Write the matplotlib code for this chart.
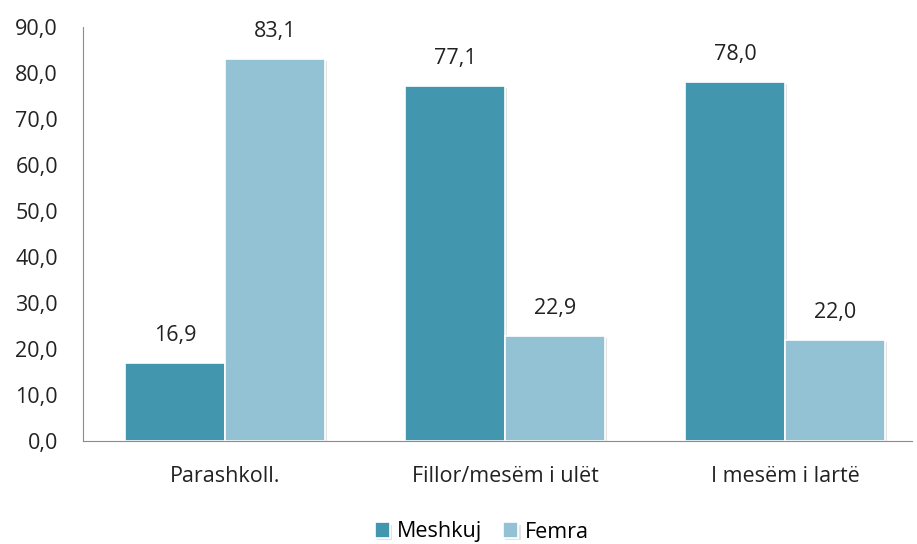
import numpy as np
import matplotlib.pyplot as plt
import matplotlib.patheffects as pe

categories = ["Parashkoll.", "Fillor/mesëm i ulët", "I mesëm i lartë"]
meshkuj = [16.9, 77.1, 78.0]
femra = [83.1, 22.9, 22.0]
yticks = [0, 10, 20, 30, 40, 50, 60, 70, 80, 90]

dark = "#4296ad"
light = "#93c2d5"

plt.rcParams["font.family"] = ["Open Sans", "DejaVu Sans"]
fs = 15.5

fig = plt.figure(figsize=(9.17, 5.44), dpi=100)
ax = fig.add_axes([83 / 917, 103 / 544, 829 / 917, 414 / 544])

x = np.arange(len(categories))
w = 0.357
shadow = [pe.SimplePatchShadow(offset=(1.5, -1.5), shadow_rgbFace="#cfcfcf", alpha=0.6), pe.Normal()]
b1 = ax.bar(x - w / 2, meshkuj, w, color=dark, edgecolor="white", linewidth=1.2,
            label="Meshkuj", path_effects=shadow)
b2 = ax.bar(x + w / 2, femra, w, color=light, edgecolor="white", linewidth=1.2,
            label="Femra", path_effects=shadow)

for bars, vals in ((b1, meshkuj), (b2, femra)):
    for b, v in zip(bars, vals):
        ax.text(b.get_x() + b.get_width() / 2, v + 6.0, f"{v:.1f}".replace(".", ","),
                ha="center", va="center", fontsize=fs, color="#222222")

ax.set_ylim(0, 90)
ax.set_xlim(-0.507, 2.454)
ax.set_yticks(yticks)
ax.set_yticklabels([f"{t:.1f}".replace(".", ",") for t in yticks], fontsize=fs, color="#222222")
ax.set_xticks(x)
ax.set_xticklabels(categories, fontsize=fs, color="#222222")
ax.tick_params(axis="both", length=0)
ax.tick_params(axis="y", pad=18)
ax.tick_params(axis="x", pad=18)

for s in ("top", "right"):
    ax.spines[s].set_visible(False)
ax.spines["left"].set_color("#8c8c8c")
ax.spines["bottom"].set_color("#8c8c8c")

leg = fig.legend(handles=[b1, b2], loc="center", bbox_to_anchor=(482 / 917, 1 - 532 / 544),
                 ncol=2, frameon=False, fontsize=fs, handlelength=0.7, handleheight=0.7,
                 handletextpad=0.3, columnspacing=1.0)

fig.savefig("out.png", dpi=100)
